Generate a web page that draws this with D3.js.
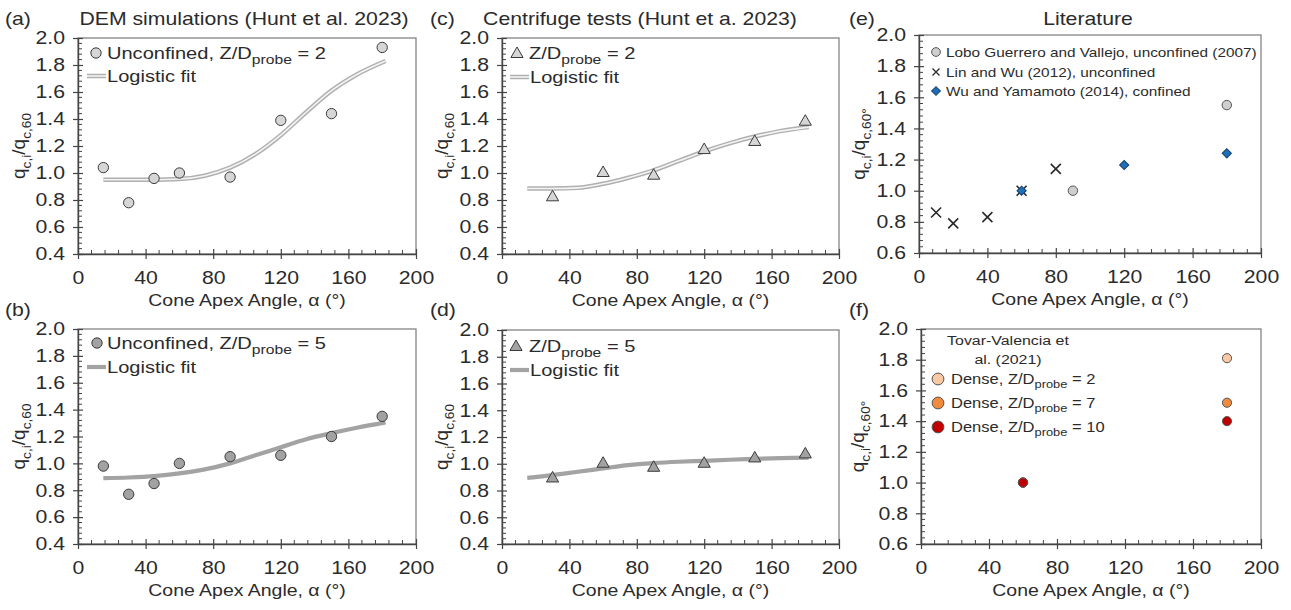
<!DOCTYPE html>
<html>
<head>
<meta charset="utf-8">
<script src="https://cdn.jsdelivr.net/npm/d3@7"></script>
<style>
  html, body { margin: 0; padding: 0; background: #fff; }
  svg { display: block; }
</style>
</head>
<body>
<svg id="chart" width="1291" height="610"></svg>
<script>
// ---- data -------------------------------------------------------------
const xTickValues = [0, 40, 80, 120, 160, 200];
const yTicksHunt = [0.4, 0.6, 0.8, 1.0, 1.2, 1.4, 1.6, 1.8, 2.0];
const yTicksLit = [0.6, 0.8, 1.0, 1.2, 1.4, 1.6, 1.8, 2.0];

// DEM simulations (Hunt et al. 2023)
const demAngles = [15, 30, 45, 60, 90, 120, 150, 180];
const demZ2 = [1.04, 0.78, 0.96, 1.00, 0.97, 1.39, 1.44, 1.93];
const demZ5 = [0.98, 0.77, 0.85, 1.00, 1.05, 1.06, 1.20, 1.35];

// logistic fit curves, sampled along the angle axis
const fitAngles = [15, 30, 45, 60, 75, 90, 105, 120, 135, 150, 165, 182];
const demZ2Fit = [0.95, 0.95, 0.95, 0.955, 0.98, 1.04, 1.14, 1.28, 1.45, 1.61, 1.73, 1.83];
const demZ5Fit = [0.89, 0.895, 0.905, 0.925, 0.955, 1.00, 1.06, 1.12, 1.18, 1.225, 1.265, 1.305];

// Centrifuge tests (Hunt et al. 2023)
const cfgAngles = [30, 60, 90, 120, 150, 180];
const cfgZ2 = [0.82, 1.00, 0.98, 1.17, 1.23, 1.38];
const cfgZ5 = [0.89, 1.00, 0.97, 1.00, 1.04, 1.07];
const cfgZ2Fit = [0.885, 0.885, 0.89, 0.92, 0.965, 1.02, 1.09, 1.16, 1.22, 1.27, 1.31, 1.34];
const cfgZ5Fit = [0.895, 0.915, 0.94, 0.965, 0.99, 1.005, 1.015, 1.022, 1.03, 1.036, 1.042, 1.046];

// Literature
const loboAngles = [90, 180];
const loboValues = [1.00, 1.55];
const linAngles = [10, 20, 40, 60, 80];
const linValues = [0.86, 0.79, 0.83, 1.00, 1.14];
const wuAngles = [60, 120, 180];
const wuValues = [1.00, 1.165, 1.24];

// Tovar-Valencia et al. (2021)
const tovarAngles = [60, 180];
const tovarZ2 = [1.00, 1.81];
const tovarZ7 = [1.00, 1.52];
const tovarZ10 = [1.00, 1.40];

// ---- helpers ----------------------------------------------------------
const SX = 1.18;               // horizontal text stretch
const FONT = "'Liberation Sans', Arial, Helvetica, sans-serif";
const INK = "#2b2b2b";
const svg = d3.select("#chart").style("font-family", FONT);

function zip(a, b) { return a.map((v, i) => [v, b[i]]); }

function label(parent, x, y, parts, size, anchor = "start") {
  const g = parent.append("g").attr("transform", `translate(${x},${y}) scale(${SX},1)`);
  const t = g.append("text").attr("font-size", size).attr("text-anchor", anchor).attr("fill", INK);
  if (typeof parts === "string") parts = [[parts]];
  let shift = 0;
  parts.forEach(([s, kind]) => {
    const ts = t.append("tspan").text(s);
    const target = kind === "sub" ? size * 0.3 : 0;
    if (target !== shift) { ts.attr("dy", target - shift); shift = target; }
    if (kind === "sub") ts.attr("font-size", size * 0.78);
  });
  return t;
}

function yTitle(parent, x, y, lastSub) {
  const size = 19;
  const t = parent.append("text")
    .attr("transform", `translate(${x},${y}) rotate(-90)`)
    .attr("text-anchor", "middle").attr("font-size", size).attr("fill", INK);
  const parts = [["q"], ["c,i", "sub"], ["/q"], [lastSub, "sub"]];
  let shift = 0;
  parts.forEach(([s, kind]) => {
    const ts = t.append("tspan").text(s);
    const target = kind === "sub" ? size * 0.3 : 0;
    if (target !== shift) { ts.attr("dy", target - shift); shift = target; }
    if (kind === "sub") ts.attr("font-size", size * 0.72);
  });
}

function panel(p) {
  const x = d3.scaleLinear().domain([0, 200]).range([p.x0, p.x1]);
  const y = d3.scaleLinear().domain(p.yDomain).range([p.y1, p.y0]);
  const g = svg.append("g");

  // frame
  g.append("rect").attr("x", p.x0).attr("y", p.y0)
    .attr("width", p.x1 - p.x0).attr("height", p.y1 - p.y0)
    .attr("fill", "none").attr("stroke", "#7a7a7a").attr("stroke-width", 1.2);

  // minor ticks
  const xMinor = d3.range(0, 200, 8).filter(v => v % 40 !== 0);
  g.append("g").selectAll("line").data(xMinor).join("line")
    .attr("x1", d => x(d)).attr("x2", d => x(d))
    .attr("y1", p.y1).attr("y2", p.y1 - 4)
    .attr("stroke", "#444").attr("stroke-width", 1);
  const lo = p.yDomain[0], hi = p.yDomain[1];
  const yMinor = d3.range(0, Math.round((hi - lo) / 0.04) + 1)
    .map(i => +(lo + i * 0.04).toFixed(2))
    .filter(v => Math.abs(v * 5 - Math.round(v * 5)) > 1e-6);
  g.append("g").selectAll("line").data(yMinor).join("line")
    .attr("x1", p.x0).attr("x2", p.x0 + 4)
    .attr("y1", d => y(d)).attr("y2", d => y(d))
    .attr("stroke", "#444").attr("stroke-width", 1);

  // x axis
  const gx = g.append("g").attr("transform", `translate(0,${p.y1})`)
    .call(d3.axisBottom(x).tickValues(xTickValues).tickSize(5).tickSizeOuter(0));
  gx.select(".domain").attr("stroke", "#444").attr("stroke-width", 1.4);
  gx.selectAll(".tick line").attr("y1", -5).attr("y2", 5).attr("stroke", "#444").attr("stroke-width", 1.2);
  gx.selectAll(".tick text").attr("y", 17).attr("font-size", 18).attr("fill", INK)
    .attr("font-family", FONT).attr("transform", `scale(${SX},1)`);

  // y axis
  const gy = g.append("g").attr("transform", `translate(${p.x0},0)`)
    .call(d3.axisLeft(y).tickValues(p.yTicks).tickFormat(d3.format(".1f")).tickSize(5).tickSizeOuter(0));
  gy.select(".domain").attr("stroke", "#444").attr("stroke-width", 1.4);
  gy.selectAll(".tick line").attr("x1", -5).attr("x2", 5).attr("stroke", "#444").attr("stroke-width", 1.2);
  gy.selectAll(".tick text").attr("x", -11).attr("font-size", 18).attr("fill", INK)
    .attr("font-family", FONT).attr("transform", `scale(${SX},1)`);

  // axis titles
  label(g, (p.x0 + p.x1) / 2, p.y1 + 52, [["Cone Apex Angle, α (°)"]], 16.5, "middle");
  yTitle(g, p.yLabelX, (p.y0 + p.y1) / 2, p.ySub);

  // panel letter and heading
  label(g, p.letterX, p.letterY, p.letter, 18);
  if (p.title) label(g, p.titleX, p.letterY, p.title, 18, "middle");

  return { g, x, y };
}

const fitLine = (x, y) => d3.line().x(d => x(d[0])).y(d => y(d[1])).curve(d3.curveMonotoneX);

function hollowFit(P, data) {
  const line = fitLine(P.x, P.y);
  P.g.append("path").datum(data).attr("d", line).attr("fill", "none")
    .attr("stroke", "#b0b0b0").attr("stroke-width", 4.5);
  P.g.append("path").datum(data).attr("d", line).attr("fill", "none")
    .attr("stroke", "#f4f4f4").attr("stroke-width", 1.6);
}
function solidFit(P, data) {
  P.g.append("path").datum(data).attr("d", fitLine(P.x, P.y)).attr("fill", "none")
    .attr("stroke", "#a3a3a3").attr("stroke-width", 4.2);
}

function symbols(P, data, type, size, fill, stroke = "#3a3a3a", sw = 1) {
  P.g.append("g").selectAll("path").data(data).join("path")
    .attr("transform", d => `translate(${P.x(d[0])},${P.y(d[1])})`)
    .attr("d", d3.symbol().type(type).size(size))
    .attr("fill", fill).attr("stroke", stroke).attr("stroke-width", sw);
}

// ---- (a) DEM, Z/D = 2 -------------------------------------------------
const A = panel({ x0: 78, x1: 416, y0: 38, y1: 254, yDomain: [0.4, 2.0], yTicks: yTicksHunt,
  yLabelX: 25, ySub: "c,60", letter: "(a)", letterX: 5, letterY: 25,
  title: "DEM simulations (Hunt et al. 2023)", titleX: 244 });
hollowFit(A, zip(fitAngles, demZ2Fit));
symbols(A, zip(demAngles, demZ2), d3.symbolCircle, 84, "#d6d6d6");
// legend
A.g.append("path").attr("transform", "translate(96,53)").attr("d", d3.symbol().type(d3.symbolCircle).size(84)())
  .attr("fill", "#d6d6d6").attr("stroke", "#3a3a3a");
label(A.g, 107, 59, [["Unconfined, Z/D"], ["probe", "sub"], [" = 2"]], 17);
A.g.append("line").attr("x1", 87).attr("x2", 106).attr("y1", 76).attr("y2", 76).attr("stroke", "#b0b0b0").attr("stroke-width", 4.5);
A.g.append("line").attr("x1", 87).attr("x2", 106).attr("y1", 76).attr("y2", 76).attr("stroke", "#f4f4f4").attr("stroke-width", 1.6);
label(A.g, 107, 82, "Logistic fit", 17);

// ---- (b) DEM, Z/D = 5 -------------------------------------------------
const B = panel({ x0: 78, x1: 416, y0: 329, y1: 544, yDomain: [0.4, 2.0], yTicks: yTicksHunt,
  yLabelX: 25, ySub: "c,60", letter: "(b)", letterX: 5, letterY: 316 });
solidFit(B, zip(fitAngles, demZ5Fit));
symbols(B, zip(demAngles, demZ5), d3.symbolCircle, 84, "#a2a2a2");
B.g.append("path").attr("transform", "translate(97,343)").attr("d", d3.symbol().type(d3.symbolCircle).size(84)())
  .attr("fill", "#a2a2a2").attr("stroke", "#3a3a3a");
label(B.g, 107, 349, [["Unconfined, Z/D"], ["probe", "sub"], [" = 5"]], 17);
B.g.append("line").attr("x1", 87).attr("x2", 106).attr("y1", 367).attr("y2", 367).attr("stroke", "#a3a3a3").attr("stroke-width", 4.2);
label(B.g, 107, 373, "Logistic fit", 17);

// ---- (c) Centrifuge, Z/D = 2 -------------------------------------------
const C = panel({ x0: 502, x1: 839, y0: 38, y1: 254, yDomain: [0.4, 2.0], yTicks: yTicksHunt,
  yLabelX: 448, ySub: "c,60", letter: "(c)", letterX: 430, letterY: 25,
  title: "Centrifuge tests (Hunt et a. 2023)", titleX: 640 });
hollowFit(C, zip(fitAngles, cfgZ2Fit));
symbols(C, zip(cfgAngles, cfgZ2), d3.symbolTriangle, 64, "#d6d6d6");
C.g.append("path").attr("transform", "translate(517,54)").attr("d", d3.symbol().type(d3.symbolTriangle).size(64)())
  .attr("fill", "#d6d6d6").attr("stroke", "#3a3a3a");
label(C.g, 529, 59, [["Z/D"], ["probe", "sub"], [" = 2"]], 17);
C.g.append("line").attr("x1", 510).attr("x2", 529).attr("y1", 77).attr("y2", 77).attr("stroke", "#b0b0b0").attr("stroke-width", 4.5);
C.g.append("line").attr("x1", 510).attr("x2", 529).attr("y1", 77).attr("y2", 77).attr("stroke", "#f4f4f4").attr("stroke-width", 1.6);
label(C.g, 530, 83, "Logistic fit", 17);

// ---- (d) Centrifuge, Z/D = 5 -------------------------------------------
const D = panel({ x0: 502, x1: 839, y0: 330, y1: 544, yDomain: [0.4, 2.0], yTicks: yTicksHunt,
  yLabelX: 448, ySub: "c,60", letter: "(d)", letterX: 430, letterY: 316 });
solidFit(D, zip(fitAngles, cfgZ5Fit));
symbols(D, zip(cfgAngles, cfgZ5), d3.symbolTriangle, 64, "#a2a2a2");
D.g.append("path").attr("transform", "translate(516,347)").attr("d", d3.symbol().type(d3.symbolTriangle).size(64)())
  .attr("fill", "#a2a2a2").attr("stroke", "#3a3a3a");
label(D.g, 529, 352, [["Z/D"], ["probe", "sub"], [" = 5"]], 17);
D.g.append("line").attr("x1", 510).attr("x2", 529).attr("y1", 370).attr("y2", 370).attr("stroke", "#a3a3a3").attr("stroke-width", 4.2);
label(D.g, 530, 376, "Logistic fit", 17);

// ---- (e) Literature ----------------------------------------------------
const E = panel({ x0: 919, x1: 1261, y0: 35, y1: 253, yDomain: [0.6, 2.0], yTicks: yTicksLit,
  yLabelX: 865, ySub: "c,60°", letter: "(e)", letterX: 849, letterY: 25,
  title: "Literature", titleX: 1088 });
const crossPath = "M-5,-5L5,5M-5,5L5,-5";
symbols(E, zip(loboAngles, loboValues), d3.symbolCircle, 70, "#cfcfcf", "#555", 1);
E.g.append("g").selectAll("path").data(zip(linAngles, linValues)).join("path")
  .attr("transform", d => `translate(${E.x(d[0])},${E.y(d[1])})`)
  .attr("d", crossPath).attr("fill", "none").attr("stroke", "#2a2a2a").attr("stroke-width", 1.6);
E.g.append("g").selectAll("path").data(zip(wuAngles, wuValues)).join("path")
  .attr("transform", d => `translate(${E.x(d[0])},${E.y(d[1])}) rotate(45)`)
  .attr("d", d3.symbol().type(d3.symbolSquare).size(42))
  .attr("fill", "#1f6fb8").attr("stroke", "#123f6b").attr("stroke-width", 1);
// legend
E.g.append("path").attr("transform", "translate(936,52)").attr("d", d3.symbol().type(d3.symbolCircle).size(60)())
  .attr("fill", "#cfcfcf").attr("stroke", "#555");
label(E.g, 946, 57, "Lobo Guerrero and Vallejo, unconfined (2007)", 13);
E.g.append("path").attr("transform", "translate(936,72)").attr("d", "M-3.5,-3.5L3.5,3.5M-3.5,3.5L3.5,-3.5")
  .attr("stroke", "#2a2a2a").attr("stroke-width", 1.3).attr("fill", "none");
label(E.g, 946, 77, "Lin and Wu (2012), unconfined", 13);
E.g.append("path").attr("transform", "translate(936,91) rotate(45)").attr("d", d3.symbol().type(d3.symbolSquare).size(38)())
  .attr("fill", "#1f6fb8").attr("stroke", "#123f6b");
label(E.g, 946, 96, "Wu and Yamamoto (2014), confined", 13);

// ---- (f) Tovar-Valencia et al. (2021) ------------------------------------
const F = panel({ x0: 921, x1: 1261, y0: 329, y1: 544, yDomain: [0.6, 2.0], yTicks: yTicksLit,
  yLabelX: 864, ySub: "c,60°", letter: "(f)", letterX: 849, letterY: 316 });
symbols(F, zip(tovarAngles, tovarZ2), d3.symbolCircle, 66, "#f8c9a4", "#555");
symbols(F, zip(tovarAngles, tovarZ7), d3.symbolCircle, 66, "#ef8a3e", "#555");
symbols(F, zip(tovarAngles, tovarZ10), d3.symbolCircle, 66, "#c00000", "#555");
label(F.g, 1008, 345, "Tovar-Valencia et", 13.5, "middle");
label(F.g, 1008, 364, "al. (2021)", 13.5, "middle");
const tovarLegend = [["#f8c9a4", "2", 379], ["#ef8a3e", "7", 403], ["#c00000", "10", 427]];
tovarLegend.forEach(([col, z, yy]) => {
  F.g.append("path").attr("transform", `translate(938,${yy})`).attr("d", d3.symbol().type(d3.symbolCircle).size(110)())
    .attr("fill", col).attr("stroke", "#555");
  label(F.g, 951, yy + 5, [["Dense, Z/D"], ["probe", "sub"], [" = " + z]], 14);
});
</script>
</body>
</html>
